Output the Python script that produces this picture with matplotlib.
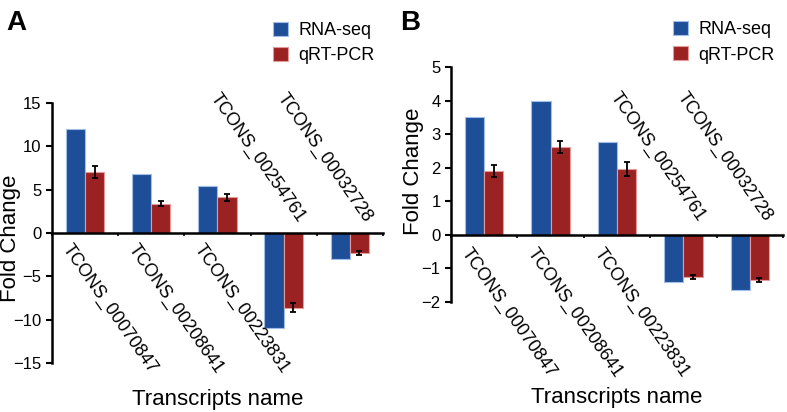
import matplotlib
matplotlib.use("Agg")
import matplotlib.pyplot as plt
import numpy as np

plt.rcParams['font.family'] = ['Liberation Sans', 'DejaVu Sans']

# Datos de las transcripciones
transcripts = ["TCONS_00070847", "TCONS_00208641", "TCONS_00223831",
               "TCONS_00254761", "TCONS_00032728"]

# Panel A
rnaseq_a = [12.0, 6.8, 5.4, -11.0, -3.0]
qpcr_a = [7.0, 3.4, 4.1, -8.6, -2.3]
qpcr_err_a = [0.7, 0.3, 0.45, 0.55, 0.25]

# Panel B
rnaseq_b = [3.52, 4.0, 2.77, -1.40, -1.65]
qpcr_b = [1.91, 2.62, 1.96, -1.25, -1.35]
qpcr_err_b = [0.17, 0.18, 0.2, 0.06, 0.06]

azul = "#1f4e99"
rojo = "#9b2222"


def dibujar_panel(ax, rnaseq, qpcr, err, ylim, yticks, pad, leyenda_y):
    x = np.arange(len(transcripts))
    w = 0.29
    ax.bar(x - w / 2, rnaseq, w, color=azul, edgecolor="#9fbde6", linewidth=0.8,
           label="RNA-seq")
    ax.bar(x + w / 2, qpcr, w, color=rojo, edgecolor="#e59a9a", linewidth=0.8,
           yerr=err, capsize=2.5, error_kw=dict(ecolor="black", elinewidth=1.3, capthick=1.3),
           label="qRT-PCR")

    ax.set_xlim(-0.5, len(transcripts) - 0.5)
    ax.set_ylim(*ylim)
    ax.set_yticks(yticks)
    ax.tick_params(axis="y", labelsize=12, width=1.5, length=4, direction="out")

    # Eje x en cero
    for s in ["top", "right"]:
        ax.spines[s].set_visible(False)
    ax.spines["bottom"].set_position(("data", 0))
    ax.spines["bottom"].set_linewidth(1.8)
    ax.spines["left"].set_linewidth(1.8)
    ax.set_xticks(np.arange(len(transcripts) + 1) - 0.5)
    ax.set_xticklabels([])
    ax.tick_params(axis="x", length=2.5, width=1.2, direction="out")

    # Etiquetas rotadas de las transcripciones
    for xi, nombre, v in zip(x, transcripts, rnaseq):
        if v >= 0:
            ax.text(xi - 0.19, -pad, nombre, rotation=-55, rotation_mode="anchor",
                    ha="left", va="top", fontsize=13)
        else:
            ax.text(xi + 0.17, pad, nombre, rotation=-55, rotation_mode="anchor",
                    ha="right", va="bottom", fontsize=13)

    ax.set_ylabel("Fold Change", fontsize=16)
    ax.set_xlabel("Transcripts name", fontsize=16)
    ax.legend(loc="upper left", bbox_to_anchor=(0.62, leyenda_y),
              frameon=False, fontsize=13, handlelength=0.8, handleheight=0.8,
              handletextpad=0.6, labelspacing=0.45)


fig = plt.figure(figsize=(7.87, 4.12), dpi=100)
ax_a = fig.add_axes([0.066, 0.119, 0.4206, 0.631])
ax_b = fig.add_axes([0.573, 0.267, 0.4219, 0.570])

dibujar_panel(ax_a, rnaseq_a, qpcr_a, qpcr_err_a, (-15, 15), [-15, -10, -5, 0, 5, 10, 15], 0.9, 1.375)
dibujar_panel(ax_b, rnaseq_b, qpcr_b, qpcr_err_b, (-2, 5), [-2, -1, 0, 1, 2, 3, 4, 5], 0.3, 1.265)

ax_a.xaxis.set_label_coords(0.5, -0.1)
ax_b.xaxis.set_label_coords(0.5, -0.36)
ax_a.yaxis.set_label_coords(-0.094, 0.48)
ax_b.yaxis.set_label_coords(-0.081, 0.557)

fig.text(0.008, 0.975, "A", fontsize=20, fontweight="bold", va="top")
fig.text(0.508, 0.975, "B", fontsize=20, fontweight="bold", va="top")

fig.savefig("out.png", dpi=100)
